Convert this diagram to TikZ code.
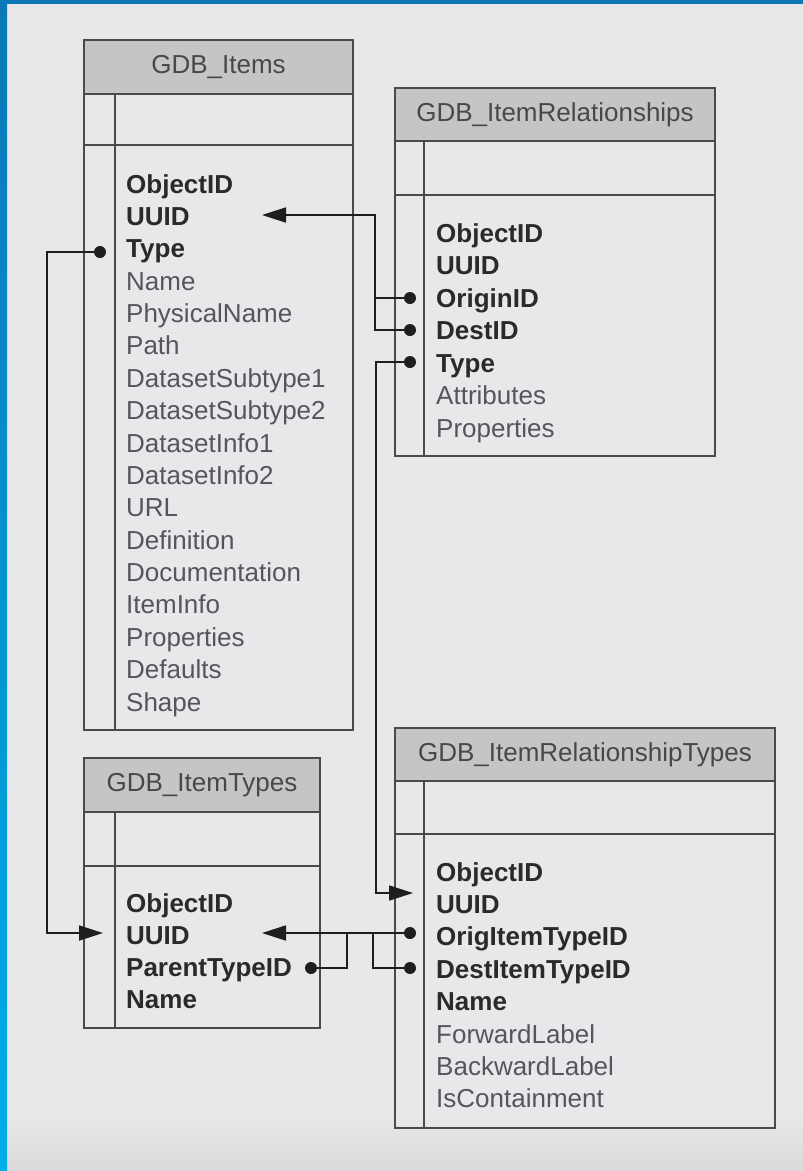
\documentclass[tikz,border=0pt]{standalone}
\usepackage{fontspec}
\setmainfont{Liberation Sans}
\usetikzlibrary{arrows.meta}
\definecolor{bgc}{HTML}{E8E8EB}
\definecolor{bandc}{HTML}{D9D9DC}
\definecolor{bluetop}{HTML}{0A78B6}
\definecolor{bluebot}{HTML}{00AEE8}
\definecolor{hdrc}{HTML}{C5C5C7}
\definecolor{tblc}{HTML}{4A4A4C}
\definecolor{connc}{HTML}{1E1E1E}
\definecolor{keyc}{HTML}{2A2A2C}
\definecolor{fldc}{HTML}{55555A}
\definecolor{titlec}{HTML}{48484A}
\newcommand\myrowfont{\fontsize{26}{30}\selectfont}
\begin{document}
\begin{tikzpicture}[x=1pt,y=-1pt,
  tbl/.style={draw=tblc, line width=2.2pt},
  hdr/.style={fill=hdrc},
  ttl/.style={font=\myrowfont, text=titlec, inner sep=0},
  key/.style={anchor=base west, font=\myrowfont\bfseries, text=keyc, inner sep=0},
  fld/.style={anchor=base west, font=\myrowfont, text=fldc, inner sep=0},
  conn/.style={draw=connc, line width=1.8pt},
  arr/.style={-{Triangle[length=24pt,width=15pt]}},
  dot/.style={circle, fill=connc, inner sep=0, minimum size=12pt}]
\useasboundingbox (0,0) rectangle (803,1171);
% background
\fill[bgc] (0,0) rectangle (803,1171);
\shade[top color=bgc, bottom color=bandc] (0,1115) rectangle (803,1171);
\fill[bluetop] (0,0) rectangle (803,4);
\shade[top color=bluetop, bottom color=bluebot] (0,0) rectangle (7,1171);

% ---------- GDB_Items ----------
\fill[hdr] (84,40) rectangle (353,94);
\draw[tbl] (84,40) rectangle (353,730);
\draw[tbl] (84,94) -- (353,94) (84,145) -- (353,145) (115,94) -- (115,730);
\node[ttl] (t-items) at (218.5,67) {GDB\_Items};
\foreach \n/\t/\s [count=\i from 0] in {objid/ObjectID/key, uuid/UUID/key, type/Type/key, name/Name/fld, phys/PhysicalName/fld, path/Path/fld, ds1/DatasetSubtype1/fld, ds2/DatasetSubtype2/fld, di1/DatasetInfo1/fld, di2/DatasetInfo2/fld, url/URL/fld, def/Definition/fld, doc/Documentation/fld, info/ItemInfo/fld, prop/Properties/fld, dflt/Defaults/fld, shape/Shape/fld}
  \node[\s] (it-\n) at (126,193+32.375*\i) {\t};

% ---------- GDB_ItemRelationships ----------
\fill[hdr] (395,88) rectangle (715,141);
\draw[tbl] (395,88) rectangle (715,456);
\draw[tbl] (395,141) -- (715,141) (395,195) -- (715,195) (424,141) -- (424,456);
\node[ttl] (t-rel) at (555,114.5) {GDB\_ItemRelationships};
\foreach \n/\t/\s [count=\i from 0] in {objid/ObjectID/key, uuid/UUID/key, orig/OriginID/key, dest/DestID/key, type/Type/key, attr/Attributes/fld, prop/Properties/fld}
  \node[\s] (ir-\n) at (436,242+32.5*\i) {\t};

% ---------- GDB_ItemTypes ----------
\fill[hdr] (84,758) rectangle (320,812);
\draw[tbl] (84,758) rectangle (320,1028);
\draw[tbl] (84,812) -- (320,812) (84,866) -- (320,866) (115,812) -- (115,1028);
\node[ttl] (t-types) at (202,785) {GDB\_ItemTypes};
\foreach \n/\t/\s [count=\i from 0] in {objid/ObjectID/key, uuid/UUID/key, parent/ParentTypeID/key, name/Name/key}
  \node[\s] (ty-\n) at (126,912+32.3*\i) {\t};

% ---------- GDB_ItemRelationshipTypes ----------
\fill[hdr] (395,728) rectangle (775,781);
\draw[tbl] (395,728) rectangle (775,1128);
\draw[tbl] (395,781) -- (775,781) (395,834) -- (775,834) (424,781) -- (424,1128);
\node[ttl] (t-rtypes) at (585,754.5) {GDB\_ItemRelationshipTypes};
\foreach \n/\t/\s [count=\i from 0] in {objid/ObjectID/key, uuid/UUID/key, orig/OrigItemTypeID/key, dest/DestItemTypeID/key, name/Name/key, fwd/ForwardLabel/fld, bwd/BackwardLabel/fld, cont/IsContainment/fld}
  \node[\s] (rt-\n) at (436,881+32.4*\i) {\t};

% ---------- connector ends ----------
\node[dot] (d-irorig) at (410,298) {};
\node[dot] (d-irdest) at (410,330) {};
\node[dot] (d-irtype) at (410,362) {};
\node[dot] (d-ittype) at (100,252) {};
\node[dot] (d-rtorig) at (410,933) {};
\node[dot] (d-rtdest) at (410,968) {};
\node[dot] (d-typar) at (311,968) {};
\coordinate (a-ituuid) at (262,215);
\coordinate (a-rtuuid) at (413,893);
\coordinate (a-tyuuid1) at (103,933);
\coordinate (a-tyuuid2) at (262,933);
\coordinate (b1) at (375,215);
\coordinate (b2) at (376,893);
\coordinate (b3) at (47,252);
\coordinate (b4) at (347,933);
\coordinate (b5) at (373,933);

% ---------- connectors ----------
\draw[conn,arr] (d-irorig.center) -| (b1) -- (a-ituuid);
\draw[conn] (d-irdest.center) -| (b1);
\draw[conn,arr] (d-irtype.center) -| (b2) -- (a-rtuuid);
\draw[conn,arr] (d-ittype.center) -- (b3) |- (a-tyuuid1);
\draw[conn,arr] (d-rtorig.center) -- (a-tyuuid2);
\draw[conn] (d-typar.center) -| (b4);
\draw[conn] (d-rtdest.center) -| (b5);
\end{tikzpicture}
\end{document}
